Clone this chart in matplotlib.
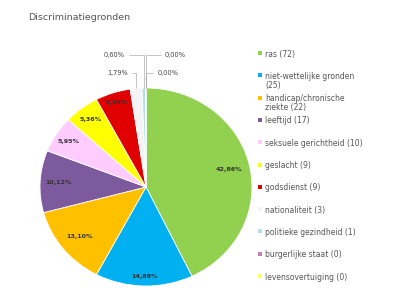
import numpy as np
import matplotlib.pyplot as plt

labels = ['ras (72)', 'niet-wettelijke gronden\n(25)', 'handicap/chronische\nziekte (22)', 'leeftijd (17)',
          'seksuele gerichtheid (10)', 'geslacht (9)', 'godsdienst (9)', 'nationaliteit (3)',
          'politieke gezindheid (1)', 'burgerlijke staat (0)', 'levensovertuiging (0)']
counts = [72, 25, 22, 17, 10, 9, 9, 3, 1, 0, 0]
colors = ['#92D050', '#00B0F0', '#FFC000', '#7D5A9E', '#FFCCFF', '#FFFF00', '#E00000',
          '#F4F4F4', '#B7DEE8', '#C080B8', '#FFFF66']

total = sum(counts)
pcts = [c / total * 100 for c in counts]

W, H = 404, 290
fig = plt.figure(figsize=(W / 100, H / 100), dpi=100)
fig.text(28 / W, 1 - 18 / H, 'Discriminatiegronden', fontsize=6.8, color='#555555', va='center')

# pie is slightly squashed: 106 px wide radius, 99 px tall, centre at (146, 187) px
rx, ry, cx, cy = 106, 99, 146, 187
ax = fig.add_axes([(cx - 1.2 * rx) / W, (H - cy - 1.05 * ry) / H, 2.4 * rx / W, 2.85 * ry / H])
wedges, _ = ax.pie(counts, colors=colors, startangle=90, counterclock=False,
                   wedgeprops=dict(edgecolor='white', linewidth=0.6))
ax.set_aspect('auto')
ax.set_xlim(-1.2, 1.2)
ax.set_ylim(-1.05, 1.8)

ang0 = 90.0
outside = {7: (-0.17, 1.15), 8: (-0.2, 1.33), 9: (0.18, 1.33), 10: (0.11, 1.15)}
label_r = [0.8, 0.9, 0.8, 0.83, 0.86, 0.86, 0.9]
for i, p in enumerate(pcts):
    ang1 = ang0 - p * 3.6
    mid = np.deg2rad((ang0 + ang1) / 2)
    txt = ('%.2f%%' % p).replace('.', ',')
    if i in outside:
        x, y = np.cos(mid), np.sin(mid)
        tx, ty = outside[i]
        ax.annotate(txt, xy=(x, y), xytext=(tx, ty), fontsize=4.8, color='#444444',
                    ha='right' if tx < 0 else 'left', va='center',
                    arrowprops=dict(arrowstyle='-', color='#999999', lw=0.4, shrinkA=1, shrinkB=0,
                                    connectionstyle='angle,angleA=0,angleB=90,rad=0'))
    else:
        r = label_r[i]
        ax.text(r * np.cos(mid), r * np.sin(mid), txt, fontsize=4.6, color='#333333',
                fontweight='bold', ha='center', va='center')
    ang0 = ang1

# legend, one slot every ~22 px
lax = fig.add_axes([0, 0, 1, 1])
lax.set_xlim(0, W)
lax.set_ylim(H, 0)
lax.axis('off')
for i, (lab, col) in enumerate(zip(labels, colors)):
    y = 53 + 22.3 * i
    lax.scatter([260], [y], marker='s', s=8, color=col, linewidths=0)
    lax.text(265, y - 3.5, lab, fontsize=5.5, color='#555555', va='top', ha='left', linespacing=1.05)

fig.savefig('out.png', dpi=100)
